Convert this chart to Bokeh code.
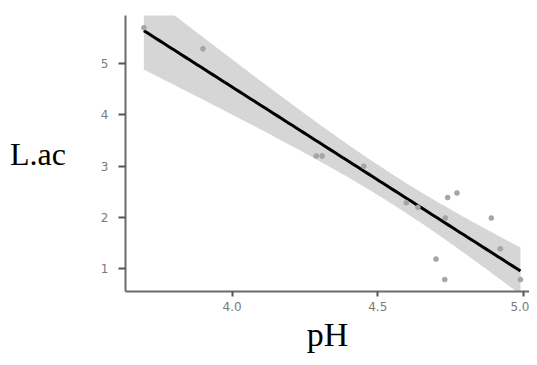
import numpy as np
from bokeh.plotting import figure
from bokeh.models import FixedTicker, Range1d
from bokeh.embed import file_html
from bokeh.resources import INLINE

# data
ph = [3.697, 3.90, 4.289, 4.309, 4.452, 4.598, 4.638, 4.732, 4.740, 4.772,
      4.890, 4.921, 4.700, 4.730, 4.990]
lac = [5.70, 5.29, 3.20, 3.20, 3.00, 2.29, 2.20, 1.99, 2.39, 2.48,
       1.99, 1.39, 1.19, 0.79, 0.79]
x_ticks = [4.0, 4.5, 5.0]
x_tick_labels = ["4.0", "4.5", "5.0"]
y_ticks = [1, 2, 3, 4, 5]

# linear fit with 95% confidence band
x = np.array(ph)
y = np.array(lac)
n = len(x)
slope, intercept = np.polyfit(x, y, 1)
resid = y - (intercept + slope * x)
s = np.sqrt(np.sum(resid ** 2) / (n - 2))
t_crit = 2.1604  # t(0.975, df=13)
sxx = np.sum((x - x.mean()) ** 2)
xs = np.linspace(x.min(), x.max(), 100)
fit = intercept + slope * xs
se = s * np.sqrt(1.0 / n + (xs - x.mean()) ** 2 / sxx)
lower = fit - t_crit * se
upper = fit + t_crit * se

p = figure(width=529, height=357, output_backend="svg", toolbar_location=None,
           x_range=Range1d(3.634, 5.021), y_range=Range1d(0.557, 5.94),
           min_border_left=125, min_border_right=0, min_border_top=15,
           min_border_bottom=66)
p.outline_line_color = None
p.grid.visible = False
p.background_fill_color = "white"

p.varea(x=xs, y1=lower, y2=upper, fill_color="#d6d6d6", fill_alpha=1.0)
p.line(x=xs, y=fit, line_color="black", line_width=3)
p.scatter(x=ph, y=lac, size=5, fill_color="#a6a6a6", line_color="#999999",
          line_width=0.5)

for ax in (p.xaxis[0], p.yaxis[0]):
    ax.axis_line_color = "#6b6b6b"
    ax.axis_line_width = 2
    ax.major_tick_line_color = "#555555"
    ax.major_tick_line_width = 2
    ax.major_tick_in = 0
    ax.minor_tick_line_color = None
    ax.major_label_text_font = "DejaVu Sans"
    ax.major_label_text_font_size = "12px"
    ax.major_label_text_color = "#7a7a7a"
    ax.axis_label_text_font = "Liberation Serif"
    ax.axis_label_text_font_style = "normal"
    ax.axis_label_text_color = "black"

p.xaxis.ticker = FixedTicker(ticks=x_ticks)
p.xaxis.major_label_overrides = {t: l for t, l in zip(x_ticks, x_tick_labels)}
p.xaxis.major_tick_out = 5
p.xaxis.major_label_standoff = 5
p.xaxis.axis_label = "pH"
p.xaxis.axis_label_text_font_size = "34px"
p.xaxis.axis_label_standoff = 2

p.yaxis.ticker = FixedTicker(ticks=y_ticks)
p.yaxis.major_tick_out = 7
p.yaxis.major_label_standoff = 10
p.yaxis.axis_label = "L.ac"
p.yaxis.axis_label_orientation = "horizontal"
p.yaxis.axis_label_text_font_size = "32px"
p.yaxis.axis_label_standoff = 32

open("out.html", "w").write(file_html(p, INLINE))
